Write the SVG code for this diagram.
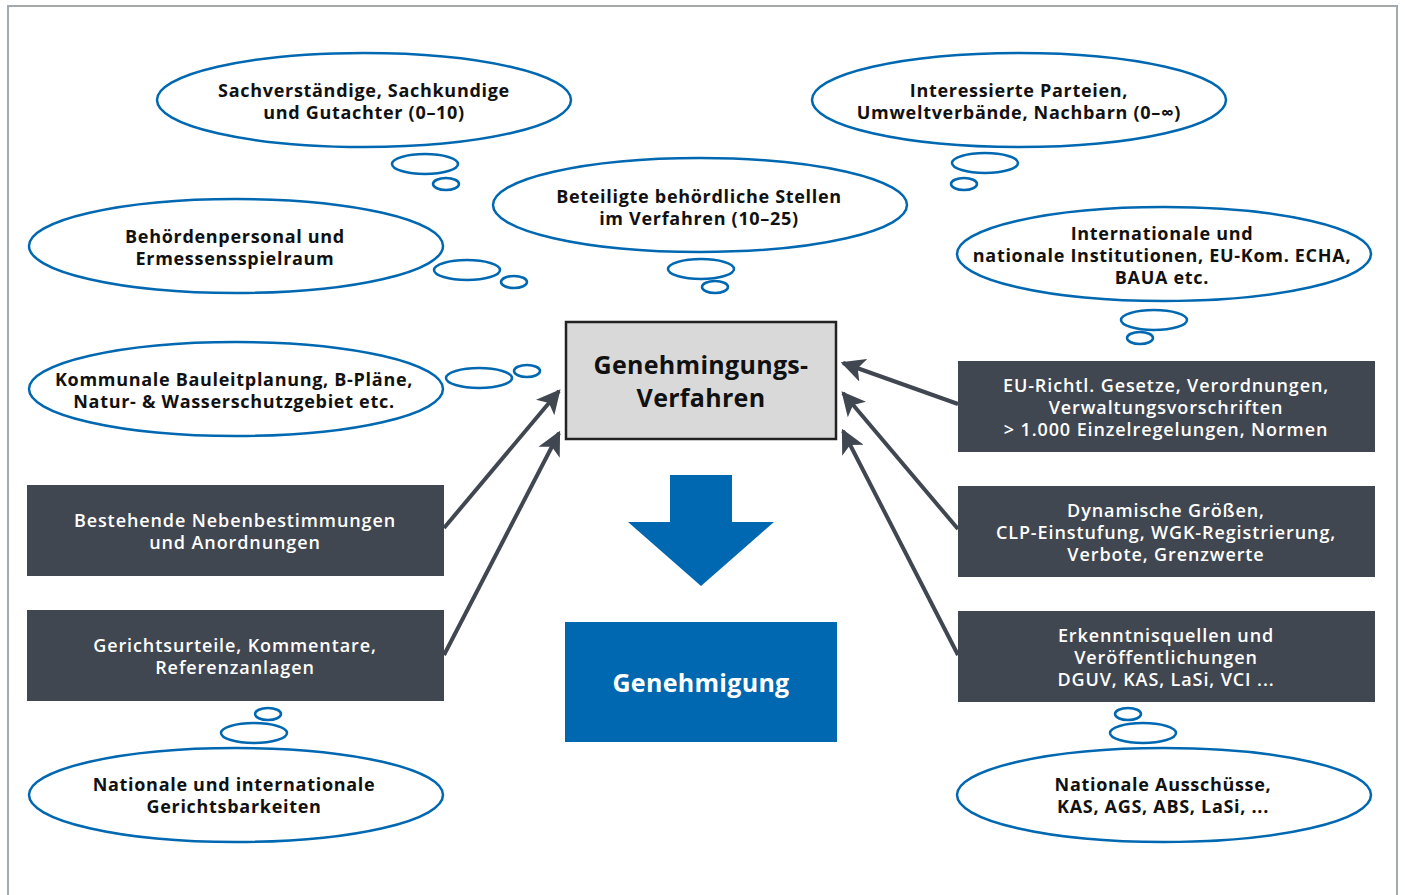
<svg xmlns="http://www.w3.org/2000/svg" width="1405" height="895" viewBox="0 0 1405 895">
<style>
.frame{fill:none;stroke:#a3a9ad;stroke-width:2}
.cloud{fill:#fff;stroke:#0068b1;stroke-width:2.5}
.bub{fill:none;stroke:#0068b1;stroke-width:2.5}
.ct{font-family:"Open Sans","DejaVu Sans",sans-serif;font-weight:bold;font-size:18px;letter-spacing:0.7px;fill:#111;text-anchor:middle}
.dark{fill:#414750}
.dt{font-family:"Open Sans","DejaVu Sans",sans-serif;font-weight:600;font-size:18px;letter-spacing:0.9px;fill:#fff;text-anchor:middle}
.conn{stroke:#414750;stroke-width:4;fill:none;marker-end:url(#ah)}
.big{font-family:"Open Sans","DejaVu Sans",sans-serif;font-weight:bold;font-size:25px;letter-spacing:0.3px;text-anchor:middle}
</style>
<defs>
<marker id="ah" viewBox="0 0 10 10" refX="9" refY="5" markerWidth="6" markerHeight="6" markerUnits="strokeWidth" orient="auto">
<path d="M0,0 L10,5 L0,10 L2.5,5 z" fill="#414750"/>
</marker>
</defs>
<rect width="1405" height="895" fill="#fff"/>
<path class="frame" d="M8,895 V6 H1397 V895"/>

<g id="n-sach">
<ellipse class="cloud" cx="364" cy="100" rx="207" ry="47"/>
<ellipse class="bub" cx="425" cy="164" rx="33" ry="10"/>
<ellipse class="bub" cx="446" cy="184" rx="13" ry="6"/>
<text class="ct" x="364" y="97">Sachverständige, Sachkundige</text>
<text class="ct" x="364" y="119">und Gutachter (0–10)</text>
</g>
<g id="n-interessierte">
<ellipse class="cloud" cx="1019" cy="100" rx="207" ry="47"/>
<ellipse class="bub" cx="985" cy="163" rx="33" ry="10"/>
<ellipse class="bub" cx="964" cy="184" rx="13" ry="6"/>
<text class="ct" x="1019" y="97">Interessierte Parteien,</text>
<text class="ct" x="1019" y="119">Umweltverbände, Nachbarn (0–∞)</text>
</g>
<g id="n-beteiligte">
<ellipse class="cloud" cx="700" cy="205" rx="207" ry="47"/>
<ellipse class="bub" cx="701" cy="269" rx="33" ry="10"/>
<ellipse class="bub" cx="715" cy="287" rx="13" ry="6"/>
<text class="ct" x="699" y="203">Beteiligte behördliche Stellen</text>
<text class="ct" x="699" y="225">im Verfahren (10–25)</text>
</g>
<g id="n-behoerden">
<ellipse class="cloud" cx="236" cy="246" rx="207" ry="47"/>
<ellipse class="bub" cx="467" cy="270" rx="33" ry="10"/>
<ellipse class="bub" cx="514" cy="282" rx="13" ry="6"/>
<text class="ct" x="235" y="243">Behördenpersonal und</text>
<text class="ct" x="235" y="265">Ermessensspielraum</text>
</g>
<g id="n-international">
<ellipse class="cloud" cx="1164" cy="254" rx="207" ry="47"/>
<ellipse class="bub" cx="1154" cy="320" rx="33" ry="10"/>
<ellipse class="bub" cx="1140" cy="338" rx="13" ry="6"/>
<text class="ct" x="1162" y="240">Internationale und</text>
<text class="ct" x="1162" y="262">nationale Institutionen, EU-Kom. ECHA,</text>
<text class="ct" x="1162" y="284">BAUA etc.</text>
</g>
<g id="n-kommunal">
<ellipse class="cloud" cx="236" cy="389" rx="207" ry="47"/>
<ellipse class="bub" cx="479" cy="378" rx="33" ry="10"/>
<ellipse class="bub" cx="527" cy="371" rx="13" ry="6"/>
<text class="ct" x="234" y="386">Kommunale Bauleitplanung, B-Pläne,</text>
<text class="ct" x="234" y="408">Natur- &amp; Wasserschutzgebiet etc.</text>
</g>
<g id="n-gerichtsbarkeiten">
<ellipse class="cloud" cx="236" cy="795" rx="207" ry="47"/>
<ellipse class="bub" cx="254" cy="733" rx="33" ry="10"/>
<ellipse class="bub" cx="268" cy="714" rx="13" ry="6"/>
<text class="ct" x="234" y="791">Nationale und internationale</text>
<text class="ct" x="234" y="813">Gerichtsbarkeiten</text>
</g>
<g id="n-ausschuesse">
<ellipse class="cloud" cx="1164" cy="795" rx="207" ry="47"/>
<ellipse class="bub" cx="1143" cy="733" rx="33" ry="10"/>
<ellipse class="bub" cx="1128" cy="714" rx="13" ry="6"/>
<text class="ct" x="1163" y="791">Nationale Ausschüsse,</text>
<text class="ct" x="1163" y="813">KAS, AGS, ABS, LaSi, ...</text>
</g>

<g id="n-neben">
<rect class="dark" x="27" y="485" width="417" height="91"/>
<text class="dt" x="235" y="527">Bestehende Nebenbestimmungen</text>
<text class="dt" x="235" y="549">und Anordnungen</text>
</g>
<g id="n-urteile">
<rect class="dark" x="27" y="610" width="417" height="91"/>
<text class="dt" x="235" y="652">Gerichtsurteile, Kommentare,</text>
<text class="dt" x="235" y="674">Referenzanlagen</text>
</g>
<g id="n-eu">
<rect class="dark" x="958" y="361" width="417" height="91"/>
<text class="dt" x="1166" y="392">EU-Richtl. Gesetze, Verordnungen,</text>
<text class="dt" x="1166" y="414">Verwaltungsvorschriften</text>
<text class="dt" x="1166" y="436">&gt; 1.000 Einzelregelungen, Normen</text>
</g>
<g id="n-dynamisch">
<rect class="dark" x="958" y="486" width="417" height="91"/>
<text class="dt" x="1166" y="517">Dynamische Größen,</text>
<text class="dt" x="1166" y="539">CLP-Einstufung, WGK-Registrierung,</text>
<text class="dt" x="1166" y="561">Verbote, Grenzwerte</text>
</g>
<g id="n-erkenntnis">
<rect class="dark" x="958" y="611" width="417" height="91"/>
<text class="dt" x="1166" y="642">Erkenntnisquellen und</text>
<text class="dt" x="1166" y="664">Veröffentlichungen</text>
<text class="dt" x="1166" y="686">DGUV, KAS, LaSi, VCI ...</text>
</g>

<g id="n-verfahren">
<rect x="566" y="322" width="270" height="117" fill="#d9d9d9" stroke="#222" stroke-width="2.5"/>
<text class="big" x="701" y="374" fill="#111">Genehmingungs-</text>
<text class="big" x="701" y="407" fill="#111">Verfahren</text>
</g>
<g id="n-genehmigung">
<rect x="565" y="622" width="272" height="120" fill="#0068b1"/>
<text class="big" x="701" y="692" fill="#fff">Genehmigung</text>
</g>

<g id="connectors">
<path d="M670,475 H732 V522 H774 L701,586 L628,522 H670 Z" fill="#0068b1"/>
<line class="conn" x1="444" y1="528" x2="559" y2="391"/>
<line class="conn" x1="444" y1="655" x2="559" y2="433"/>
<line class="conn" x1="958" y1="404" x2="843" y2="363"/>
<line class="conn" x1="958" y1="529" x2="843" y2="393"/>
<line class="conn" x1="958" y1="655" x2="843" y2="431"/>
</g>
</svg>
